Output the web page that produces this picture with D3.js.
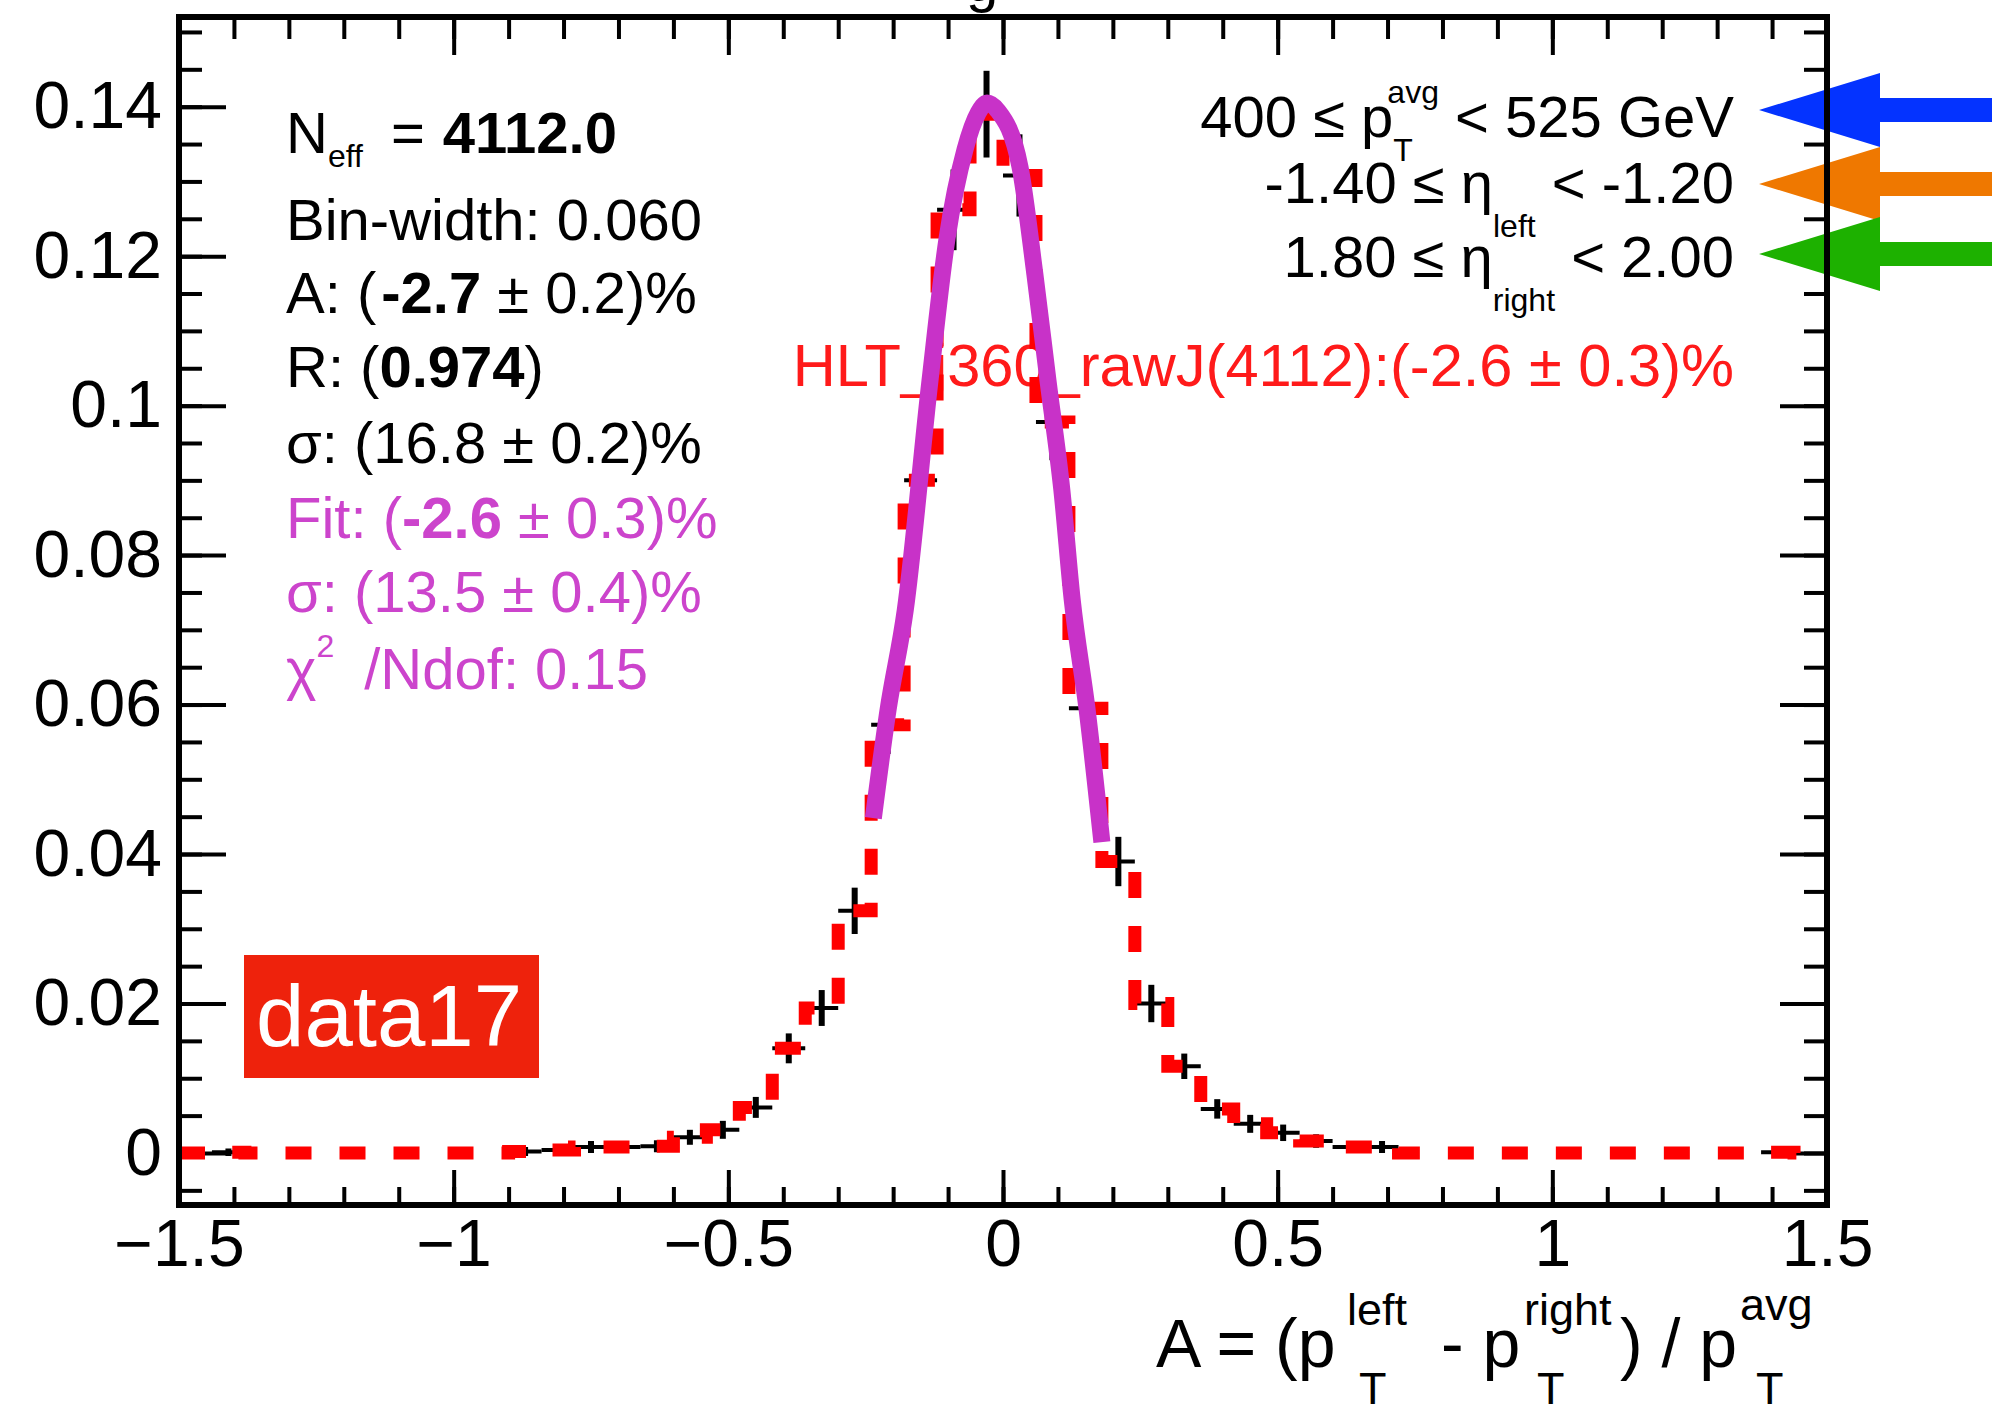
<!DOCTYPE html>
<html>
<head>
<meta charset="utf-8">
<script src="https://cdn.jsdelivr.net/npm/d3@7"></script>
<style>
  body { margin: 0; background: #fff; }
  svg { display: block; }
  text { font-family: "Liberation Sans", Arial, Helvetica, sans-serif; }
</style>
</head>
<body>
<div id="chart"></div>
<script>
// asymmetry histogram, 50 bins of 0.06 from -1.5 to 1.5
var binLow = -1.5;
var binWidth = 0.06;
var binValues = [
  0, 0.0001, 0, 0, 0, 0, 0, 0, 0, 0,
  0.0002, 0.0004, 0.0008, 0.0008, 0.0009, 0.0021, 0.0031, 0.0061, 0.0140, 0.0194,
  0.0324, 0.0573, 0.0900, 0.1262, 0.1390, 0.1308, 0.0978, 0.0595, 0.0390, 0.0200,
  0.0116, 0.0059, 0.0039, 0.0027, 0.0016, 0.0008, 0.0008, 0, 0, 0,
  0, 0, 0, 0, 0, 0, 0, 0, 0.0001, 0
];
var binErrors = [
  0, 0.0001, 0, 0, 0, 0, 0, 0, 0, 0,
  0.0002, 0.0003, 0.0004, 0.0004, 0.0004, 0.0006, 0.0008, 0.0010, 0.0016, 0.0020,
  0.0027, 0.0035, 0.0045, 0.0050, 0.0054, 0.0051, 0.0047, 0.0037, 0.0029, 0.0021,
  0.0013, 0.0009, 0.0008, 0.0007, 0.0005, 0.0004, 0.0004, 0, 0, 0,
  0, 0, 0, 0, 0, 0, 0, 0, 0.0001, 0
];

// gaussian fit
var fitX = [-0.236, -0.209, -0.178, -0.133, -0.102, -0.069, -0.045, -0.029, -0.010, 0.031, 0.058, 0.082, 0.107, 0.126, 0.153, 0.180];
var fitY = [0.0448, 0.0594, 0.0726, 0.1033, 0.1223, 0.1343, 0.1392, 0.1405, 0.1395, 0.1319, 0.1176, 0.1033, 0.0888, 0.0740, 0.0594, 0.0416];

var xTicks = [-1.5, -1, -0.5, 0, 0.5, 1, 1.5];
var xTickLabels = ["\u22121.5", "\u22121", "\u22120.5", "0", "0.5", "1", "1.5"];
var yTicks = [0, 0.02, 0.04, 0.06, 0.08, 0.1, 0.12, 0.14];
var yTickLabels = ["0", "0.02", "0.04", "0.06", "0.08", "0.1", "0.12", "0.14"];

var rightLines = [
  [{t: "400 \u2264 p"}, {sup: "avg", sub: "T"}, {t: " < 525 GeV"}],
  [{t: "-1.40 \u2264 \u03b7"}, {sub: "left"}, {t: " < -1.20"}],
  [{t: "1.80 \u2264 \u03b7"}, {sub: "right"}, {t: " < 2.00"}]
];
var triggerLabel = "HLT_j360_rawJ(4112):(-2.6 \u00b1 0.3)%";
var arrowColors = ["#0433ff", "#ef7800", "#1db100"];

var W = 1992, H = 1412;
var fitColor = "#c832c8";
var fitTextColor = "#cc44cc";

var svg = d3.select("#chart").append("svg")
    .attr("width", W)
    .attr("height", H);
svg.append("rect").attr("width", W).attr("height", H).attr("fill", "#fff");

var x = d3.scaleLinear().domain([-1.5, 1.5]).range([179, 1827]);
var y = d3.scaleLinear().domain([-0.00696, 0.152]).range([1205, 17]);

// title (only the tail of it is inside the picture)
svg.append("text").attr("x", 966).attr("y", 1).attr("font-size", 58).text("g");

// ---- axes, ticks pointing inward
function styleAxis(g) {
    g.select(".domain").remove();
    g.selectAll(".tick line").attr("stroke", "#000").attr("stroke-width", 4);
}
var xMinor = d3.range(-15, 16).map(function(d) { return d / 10; });
var yMinor = d3.range(-1, 31).map(function(d) { return d * 0.005; });

svg.append("g").attr("transform", "translate(0,1205)")
    .call(d3.axisBottom(x).tickValues(xMinor).tickSize(-18).tickFormat(""))
    .call(styleAxis);
var xAxisG = svg.append("g").attr("transform", "translate(0,1205)")
    .call(d3.axisBottom(x).tickValues(xTicks).tickSize(-35).tickPadding(14)
        .tickFormat(function(d, i) { return xTickLabels[i]; }))
    .call(styleAxis);
xAxisG.selectAll("text").attr("font-size", 66).attr("font-family", null).attr("fill", "#000");

svg.append("g").attr("transform", "translate(0,17)")
    .call(d3.axisTop(x).tickValues(xMinor).tickSize(-22).tickFormat(""))
    .call(styleAxis);
svg.append("g").attr("transform", "translate(0,17)")
    .call(d3.axisTop(x).tickValues(xTicks).tickSize(-38).tickFormat(""))
    .call(styleAxis);

svg.append("g").attr("transform", "translate(179,0)")
    .call(d3.axisLeft(y).tickValues(yMinor).tickSize(-23).tickFormat(""))
    .call(styleAxis);
var yAxisG = svg.append("g").attr("transform", "translate(179,0)")
    .call(d3.axisLeft(y).tickValues(yTicks).tickSize(-47).tickPadding(17)
        .tickFormat(function(d, i) { return yTickLabels[i]; }))
    .call(styleAxis);
yAxisG.selectAll("text").attr("font-size", 66).attr("font-family", null).attr("fill", "#000");

svg.append("g").attr("transform", "translate(1827,0)")
    .call(d3.axisRight(y).tickValues(yMinor).tickSize(-23).tickFormat(""))
    .call(styleAxis);
svg.append("g").attr("transform", "translate(1827,0)")
    .call(d3.axisRight(y).tickValues(yTicks).tickSize(-47).tickFormat(""))
    .call(styleAxis);

// ---- left info block
function infoLine(yy, color, pieces) {
    var t = svg.append("text").attr("x", 286).attr("y", yy).attr("font-size", 58).attr("fill", color);
    pieces.forEach(function(p) {
        var s = t.append("tspan").text(p.t);
        if (p.bold) s.attr("font-weight", "bold");
        if (p.size) s.attr("font-size", p.size);
        if (p.dy) s.attr("dy", p.dy);
        if (p.dx) s.attr("dx", p.dx);
    });
    return t;
}
infoLine(153, "#000", [{t: "N"}, {t: "eff", size: 32, dy: 14}, {t: "=", dy: -14, dx: 28}, {t: "4112.0", bold: true, dx: 18}]);
infoLine(240, "#000", [{t: "Bin-width: 0.060"}]);
infoLine(313, "#000", [{t: "A: ("}, {t: "-2.7", bold: true, dx: 5}, {t: " \u00b1 0.2)%"}]);
infoLine(387, "#000", [{t: "R: ("}, {t: "0.974", bold: true}, {t: ")"}]);
infoLine(463, "#000", [{t: "\u03c3: (16.8 \u00b1 0.2)%"}]);
infoLine(538, fitTextColor, [{t: "Fit: ("}, {t: "-2.6", bold: true}, {t: " \u00b1 0.3)%"}]);
infoLine(612, fitTextColor, [{t: "\u03c3: (13.5 \u00b1 0.4)%"}]);
infoLine(689, fitTextColor, [{t: "\u03c7"}, {t: "2", size: 32, dy: -32}, {t: "/Ndof: 0.15", dy: 32, dx: 30}]);

// ---- right block: bin ranges, right aligned
var rightBase = [137, 203, 277];
rightLines.forEach(function(parts, li) {
    var g = svg.append("g");
    var cx = 0;
    parts.forEach(function(p) {
        if (p.t !== undefined) {
            var t = g.append("text").attr("x", cx).attr("y", 0).attr("font-size", 58)
                .attr("fill", "#000").style("white-space", "pre").text(p.t);
            cx += t.node().getComputedTextLength();
        } else {
            var w = 0;
            if (p.sup) {
                var ts = g.append("text").attr("x", cx - 6).attr("y", -34).attr("font-size", 32).text(p.sup);
                w = Math.max(w, ts.node().getComputedTextLength() - 6);
            }
            if (p.sub) {
                var tb = g.append("text").attr("x", cx).attr("y", p.sup ? 24 : 34).attr("font-size", 32).text(p.sub);
                w = Math.max(w, tb.node().getComputedTextLength());
            }
            cx += w;
        }
    });
    g.attr("transform", "translate(" + (1734 - cx) + "," + rightBase[li] + ")");
});

svg.append("text").attr("x", 1734).attr("y", 386).attr("text-anchor", "end")
    .attr("font-size", 59.6).attr("fill", "#ff1a1a").text(triggerLabel);

// ---- arrows pointing at the bin-range lines
var arrowY = [110, 184, 254];
arrowY.forEach(function(cy, i) {
    var pts = [[1759, cy], [1880, cy - 37], [1880, cy - 12], [1992, cy - 12],
               [1992, cy + 12], [1880, cy + 12], [1880, cy + 37]];
    svg.append("polygon").attr("points", pts.map(function(p) { return p.join(","); }).join(" "))
        .attr("fill", arrowColors[i]);
});

// ---- data17 label
svg.append("rect").attr("x", 244).attr("y", 955).attr("width", 295).attr("height", 123).attr("fill", "#ee220c");
svg.append("text").attr("x", 256).attr("y", 1046).attr("font-size", 87).attr("fill", "#fff").text("data17");

// ---- histogram
var bins = binValues.map(function(v, i) {
    return {lo: binLow + i * binWidth, hi: binLow + (i + 1) * binWidth, v: v, e: binErrors[i]};
});
var filled = bins.filter(function(b) { return b.v > 0; });

// black data points: bin-width bar + error bar
svg.append("g").selectAll("line").data(filled).enter().append("line")
    .attr("x1", function(b) { return x(b.lo); })
    .attr("x2", function(b) { return x(b.hi); })
    .attr("y1", function(b) { return y(b.v); })
    .attr("y2", function(b) { return y(b.v); })
    .attr("stroke", "#000").attr("stroke-width", 4);
svg.append("g").selectAll("line").data(filled).enter().append("line")
    .attr("x1", function(b) { return x((b.lo + b.hi) / 2); })
    .attr("x2", function(b) { return x((b.lo + b.hi) / 2); })
    .attr("y1", function(b) { return y(b.v - b.e) + 3; })
    .attr("y2", function(b) { return y(b.v + b.e) - 3; })
    .attr("stroke", "#000").attr("stroke-width", 6);

// red dashed trigger histogram
var stepPts = bins.map(function(b) { return [b.lo, b.v]; });
stepPts.push([bins[bins.length - 1].hi, bins[bins.length - 1].v]);
var stepLine = d3.line()
    .x(function(d) { return x(d[0]); })
    .y(function(d) { return y(d[1]); })
    .curve(d3.curveStepAfter);
svg.append("path").datum(stepPts)
    .attr("d", stepLine)
    .attr("fill", "none")
    .attr("stroke", "#ff0000")
    .attr("stroke-width", 13)
    .attr("stroke-dasharray", "26 28");

// fit curve
var fitPts = fitX.map(function(v, i) { return [v, fitY[i]]; });
svg.append("path").datum(fitPts)
    .attr("d", d3.line()
        .x(function(d) { return x(d[0]); })
        .y(function(d) { return y(d[1]); })
        .curve(d3.curveMonotoneX))
    .attr("fill", "none")
    .attr("stroke", fitColor)
    .attr("stroke-width", 17);

// frame
svg.append("rect").attr("x", 179).attr("y", 17).attr("width", 1648).attr("height", 1188)
    .attr("fill", "none").attr("stroke", "#000").attr("stroke-width", 6);

// ---- x-axis title: A = (pT^left - pT^right) / pT^avg
var xt = svg.append("g");
function xtText(xx, yy, size, s) {
    xt.append("text").attr("x", xx).attr("y", yy).attr("font-size", size).text(s);
}
xtText(1156, 1367, 68, "A = (p");
xtText(1347, 1325, 45, "left");
xtText(1359, 1404, 45, "T");
xtText(1441, 1367, 68, "- p");
xtText(1524, 1325, 45, "right");
xtText(1537, 1404, 45, "T");
xtText(1620, 1367, 68, ") / p");
xtText(1740, 1320, 45, "avg");
xtText(1756, 1404, 45, "T");
</script>
</body>
</html>
